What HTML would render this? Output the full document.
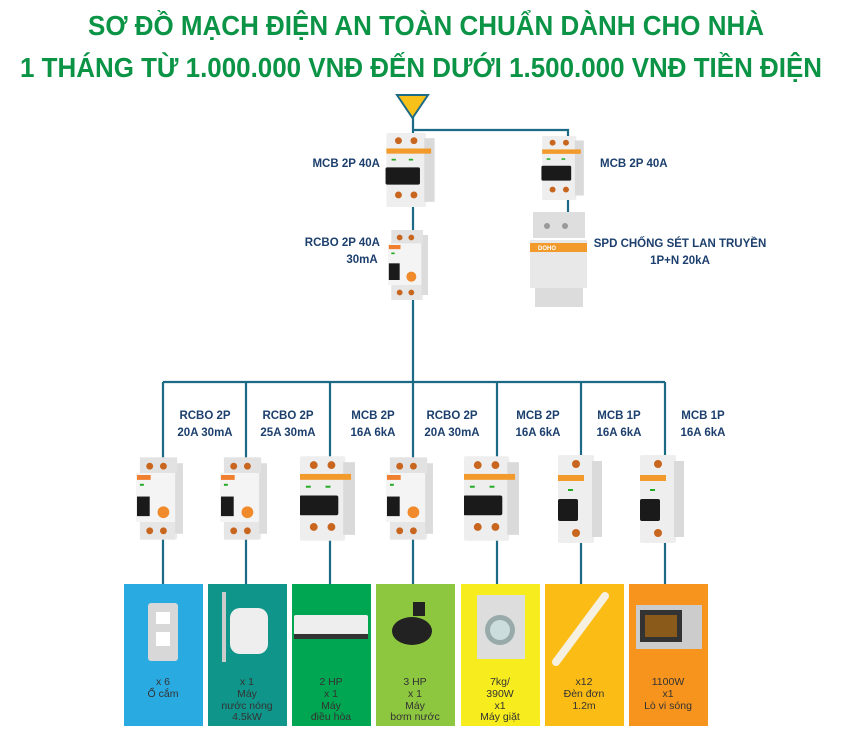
<!DOCTYPE html>
<html><head><meta charset="utf-8"><style>
html,body{margin:0;padding:0;background:#fff;}
svg{display:block;}
.t{font-family:"Liberation Sans",sans-serif;font-weight:bold;fill:#0b9446;}
.l{font-family:"Liberation Sans",sans-serif;font-weight:bold;fill:#1c3f6d;font-size:11.5px;}
.b{font-family:"Liberation Sans",sans-serif;fill:#333;font-size:10.5px;}
</style></head><body>
<svg width="842" height="748" viewBox="0 0 842 748">
<defs>
<symbol id="rcbo" viewBox="0 0 48 84">
 <rect x="4" y="0" width="38" height="84" rx="2" fill="#ececec"/>
 <rect x="38" y="6" width="10" height="72" fill="#dcdcdc"/>
 <rect x="4" y="0" width="38" height="16" fill="#e2e2e2"/>
 <circle cx="14" cy="9" r="3.5" fill="#c8661f"/><circle cx="28" cy="9" r="3.5" fill="#c8661f"/>
 <rect x="0" y="16" width="40" height="50" fill="#f4f4f4"/>
 <rect x="1" y="18" width="14" height="5" fill="#f08030"/>
 <rect x="4" y="27" width="4" height="2" fill="#2a2"/>
 <rect x="1" y="40" width="13" height="20" fill="#1a1a1a"/>
 <circle cx="28" cy="56" r="6" fill="#f08a2a"/>
 <rect x="4" y="66" width="36" height="18" fill="#e6e6e6"/>
 <circle cx="14" cy="75" r="3.5" fill="#c8661f"/><circle cx="28" cy="75" r="3.5" fill="#c8661f"/>
</symbol>
<symbol id="mcb2" viewBox="0 0 56 86">
 <rect x="0" y="0" width="46" height="86" rx="2" fill="#eeeeee"/>
 <rect x="44" y="6" width="12" height="74" fill="#dadada"/>
 <circle cx="14" cy="9" r="4" fill="#c8661f"/><circle cx="32" cy="9" r="4" fill="#c8661f"/>
 <rect x="0" y="18" width="52" height="6" fill="#f39a2c"/>
 <rect x="6" y="30" width="5" height="2" fill="#2a2"/><rect x="26" y="30" width="5" height="2" fill="#2a2"/>
 <rect x="-1" y="40" width="40" height="20" rx="2" fill="#1a1a1a"/>
 <circle cx="14" cy="72" r="4" fill="#c8661f"/><circle cx="32" cy="72" r="4" fill="#c8661f"/>
</symbol>
<symbol id="mcb1" viewBox="0 0 44 88">
 <rect x="0" y="0" width="36" height="88" rx="2" fill="#eeeeee"/>
 <rect x="34" y="6" width="10" height="76" fill="#dadada"/>
 <circle cx="18" cy="9" r="4" fill="#c8661f"/>
 <rect x="0" y="20" width="26" height="6" fill="#f39a2c"/>
 <rect x="10" y="34" width="5" height="2" fill="#2a2"/>
 <rect x="0" y="44" width="20" height="22" rx="2" fill="#1a1a1a"/>
 <circle cx="18" cy="78" r="4" fill="#c8661f"/>
</symbol>
</defs>

<text class="t" x="426" y="35" font-size="28" text-anchor="middle" textLength="676" lengthAdjust="spacingAndGlyphs">SƠ ĐỒ MẠCH ĐIỆN AN TOÀN CHUẨN DÀNH CHO NHÀ</text>
<text class="t" x="421" y="77" font-size="28" text-anchor="middle" textLength="802" lengthAdjust="spacingAndGlyphs">1 THÁNG TỪ 1.000.000 VNĐ ĐẾN DƯỚI 1.500.000 VNĐ TIỀN ĐIỆN</text>

<g stroke="#1d6a86" stroke-width="2.2" fill="none">
 <path d="M413 117 V382"/>
 <path d="M413 130 H568 V212"/>
 <path d="M163 382 H665"/>
 <path d="M163 382 V584 M246 382 V584 M330 382 V584 M413 382 V584 M497 382 V584 M581 382 V584 M665 382 V584"/>
</g>
<polygon points="397,95 428,95 412.5,118" fill="#f8c11a" stroke="#1d6a86" stroke-width="2"/>

<use href="#mcb2" x="383" y="133" width="55" height="74"/>
<use href="#rcbo" x="383" y="230" width="50" height="70"/>
<use href="#mcb2" x="540" y="136" width="46" height="64"/>
<g>
 <rect x="533" y="212" width="52" height="26" fill="#dedede"/>
 <circle cx="547" cy="226" r="3" fill="#999"/><circle cx="565" cy="226" r="3" fill="#999"/>
 <rect x="530" y="240" width="57" height="48" fill="#e8e8e8"/>
 <rect x="530" y="243" width="57" height="9" fill="#f39a2c"/>
 <text x="538" y="250" font-size="6" fill="#fff" font-family="Liberation Sans" font-weight="bold">DOHO</text>
 <rect x="535" y="288" width="48" height="19" fill="#dcdcdc"/>
</g>

<text class="l" x="380" y="167" text-anchor="end">MCB 2P 40A</text>
<text class="l" x="380" y="246" text-anchor="end">RCBO 2P 40A</text>
<text class="l" x="362" y="263" text-anchor="middle">30mA</text>
<text class="l" x="600" y="167">MCB 2P 40A</text>
<text class="l" x="680" y="247" text-anchor="middle">SPD CHỐNG SÉT LAN TRUYỀN</text>
<text class="l" x="680" y="264" text-anchor="middle">1P+N 20kA</text>

<g text-anchor="middle">
 <text class="l" x="205" y="419">RCBO 2P</text><text class="l" x="205" y="436">20A 30mA</text>
 <text class="l" x="288" y="419">RCBO 2P</text><text class="l" x="288" y="436">25A 30mA</text>
 <text class="l" x="373" y="419">MCB 2P</text><text class="l" x="373" y="436">16A 6kA</text>
 <text class="l" x="452" y="419">RCBO 2P</text><text class="l" x="452" y="436">20A 30mA</text>
 <text class="l" x="538" y="419">MCB 2P</text><text class="l" x="538" y="436">16A 6kA</text>
 <text class="l" x="619" y="419">MCB 1P</text><text class="l" x="619" y="436">16A 6kA</text>
 <text class="l" x="703" y="419">MCB 1P</text><text class="l" x="703" y="436">16A 6kA</text>
</g>

<use href="#rcbo" x="136" y="457" width="47" height="83"/>
<use href="#rcbo" x="220" y="457" width="47" height="83"/>
<use href="#mcb2" x="300" y="456" width="55" height="85"/>
<use href="#rcbo" x="386" y="457" width="47" height="83"/>
<use href="#mcb2" x="464" y="456" width="55" height="85"/>
<use href="#mcb1" x="558" y="455" width="44" height="88"/>
<use href="#mcb1" x="640" y="455" width="44" height="88"/>

<rect x="124" y="584" width="79" height="142" fill="#29abe2"/>
<rect x="208" y="584" width="79" height="142" fill="#10958a"/>
<rect x="292" y="584" width="79" height="142" fill="#00a651"/>
<rect x="376" y="584" width="79" height="142" fill="#8dc63f"/>
<rect x="461" y="584" width="79" height="142" fill="#f7ec1e"/>
<rect x="545" y="584" width="79" height="142" fill="#fbbc16"/>
<rect x="629" y="584" width="79" height="142" fill="#f7941d"/>

<!-- appliance icons -->
<rect x="148" y="603" width="30" height="58" rx="3" fill="#d8d8d8"/>
<rect x="156" y="612" width="14" height="12" fill="#fff"/><rect x="156" y="632" width="14" height="14" fill="#fff"/>
<rect x="230" y="608" width="38" height="46" rx="10" fill="#eee"/><rect x="222" y="592" width="4" height="70" fill="#ccc"/>
<rect x="294" y="615" width="74" height="20" rx="2" fill="#eee"/><rect x="294" y="634" width="74" height="5" fill="#333"/>
<ellipse cx="412" cy="631" rx="20" ry="14" fill="#222"/><rect x="413" y="602" width="12" height="14" fill="#222"/>
<rect x="477" y="595" width="48" height="64" fill="#ddd"/><circle cx="500" cy="630" r="15" fill="#9aa"/><circle cx="500" cy="630" r="10" fill="#cdd"/>
<path d="M556 662 L605 596" stroke="#f5f0e0" stroke-width="8" stroke-linecap="round"/>
<rect x="636" y="605" width="66" height="44" fill="#ccc"/><rect x="640" y="610" width="42" height="32" fill="#333"/><rect x="645" y="615" width="32" height="22" fill="#8a5a1a"/>

<g text-anchor="middle">
 <text class="b" x="163" y="685">x 6</text><text class="b" x="163" y="697">Ổ cắm</text>
 <text class="b" x="247" y="685">x 1</text><text class="b" x="247" y="697">Máy</text><text class="b" x="247" y="709">nước nóng</text><text class="b" x="247" y="720">4.5kW</text>
 <text class="b" x="331" y="685">2 HP</text><text class="b" x="331" y="697">x 1</text><text class="b" x="331" y="709">Máy</text><text class="b" x="331" y="720">điều hòa</text>
 <text class="b" x="415" y="685">3 HP</text><text class="b" x="415" y="697">x 1</text><text class="b" x="415" y="709">Máy</text><text class="b" x="415" y="720">bơm nước</text>
 <text class="b" x="500" y="685">7kg/</text><text class="b" x="500" y="697">390W</text><text class="b" x="500" y="709">x1</text><text class="b" x="500" y="720">Máy giặt</text>
 <text class="b" x="584" y="685">x12</text><text class="b" x="584" y="697">Đèn đơn</text><text class="b" x="584" y="709">1.2m</text>
 <text class="b" x="668" y="685">1100W</text><text class="b" x="668" y="697">x1</text><text class="b" x="668" y="709">Lò vi sóng</text>
</g>
</svg>
</body></html>
